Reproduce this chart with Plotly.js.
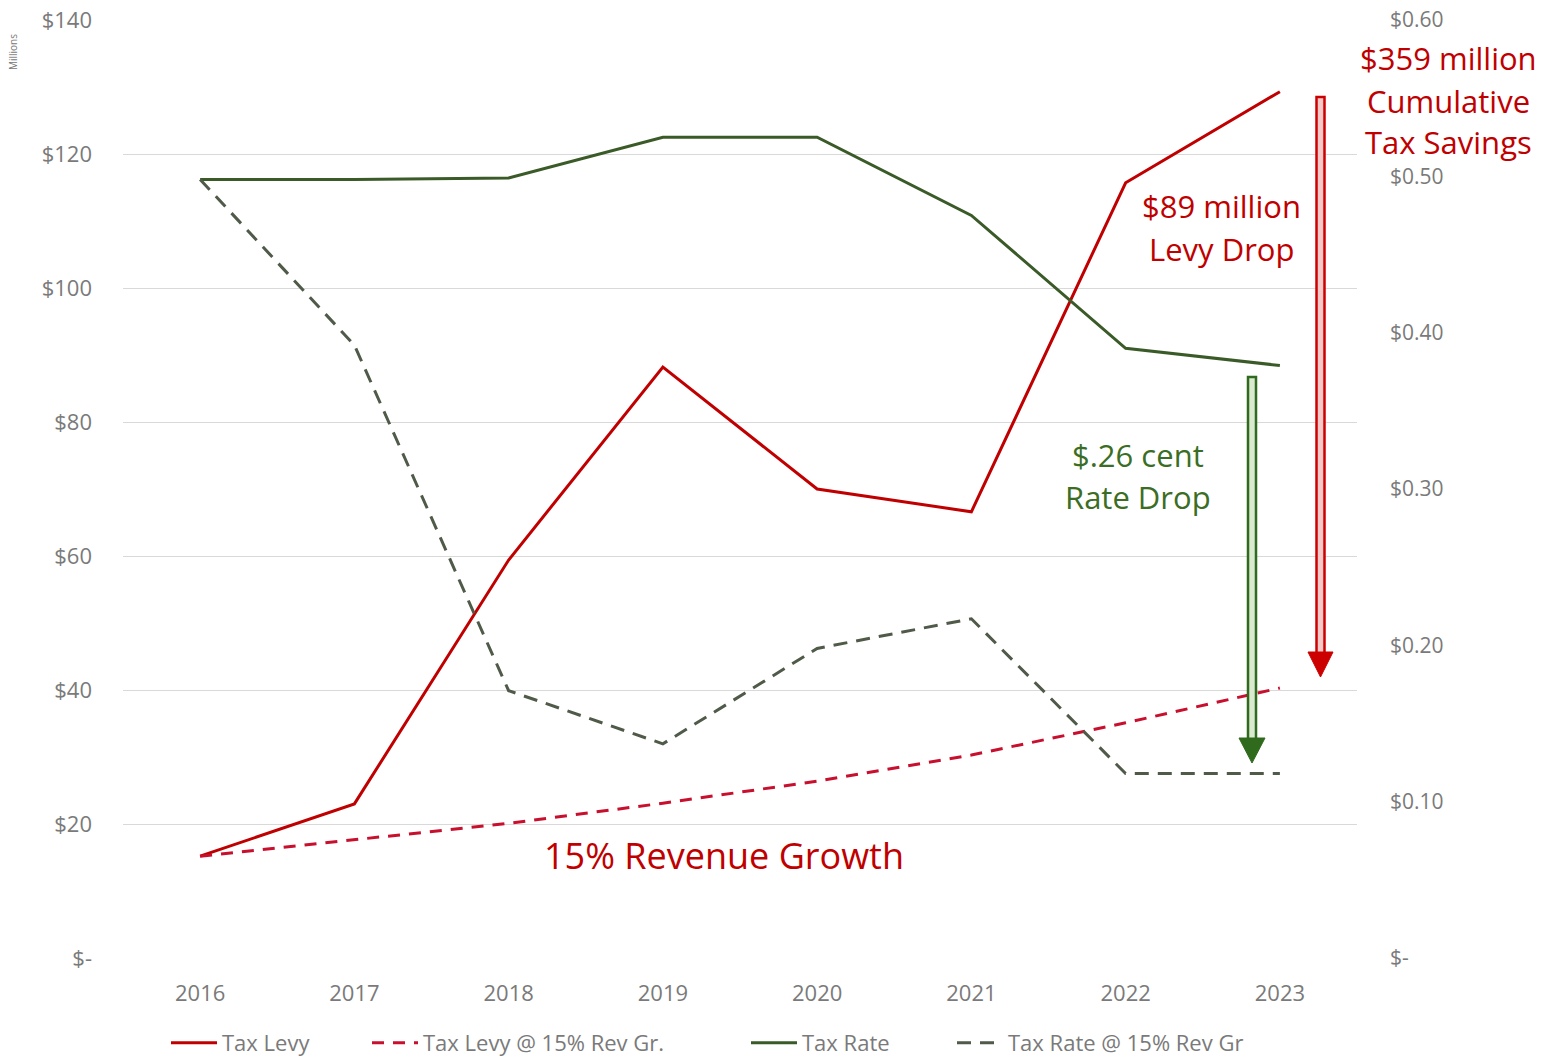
<!DOCTYPE html>
<html>
<head>
<meta charset="utf-8">
<script src="https://cdn.plot.ly/plotly-3.0.1.min.js"></script>
<style>html,body{margin:0;padding:0;background:#fff;}#chart{width:1544px;height:1060px;}</style>
</head>
<body>
<div id="chart"></div>
<script>
const years = ['2016','2017','2018','2019','2020','2021','2022','2023'];
const taxLevy = [15.2, 23.0, 59.4, 88.2, 70.0, 66.6, 115.7, 129.3];
const taxLevy15 = [15.2, 17.6, 20.1, 23.1, 26.4, 30.3, 35.1, 40.3];
const taxRate = [0.498, 0.498, 0.499, 0.525, 0.525, 0.475, 0.390, 0.379];
const taxRate15 = [0.498, 0.392, 0.171, 0.137, 0.198, 0.217, 0.118, 0.118];
const leftTicks = [0, 20, 40, 60, 80, 100, 120, 140];
const leftTickText = ['$-', '$20', '$40', '$60', '$80', '$100', '$120', '$140'];
const rightTicks = [0, 0.1, 0.2, 0.3, 0.4, 0.5, 0.6];
const rightTickText = ['$-', '$0.10', '$0.20', '$0.30', '$0.40', '$0.50', '$0.60'];

const RED = '#c00000';
const GREEN = '#3a5a28';
const GREEN_D = '#4f5a48';
const TICK = '#7a7a7a';
const FONT = 'Open Sans, Liberation Sans, sans-serif';
const AFONT = 'Open Sans, Liberation Sans, sans-serif';

// plot area in pixels
const L = 123, R = 1357, T = 20, B = 958;
const W = R - L, H = B - T;
const px = x => (x - L) / W;
const py = y => (B - y) / H;

const traces = [
  {x: years, y: taxLevy, name: 'Tax Levy', type: 'scatter', mode: 'lines',
   line: {color: RED, width: 3}, legend: 'legend'},
  {x: years, y: taxLevy15, name: 'Tax Levy @ 15% Rev Gr.', type: 'scatter', mode: 'lines',
   line: {color: '#c8102e', width: 3, dash: '12px,9px'}, legend: 'legend2'},
  {x: years, y: taxRate, name: 'Tax Rate', type: 'scatter', mode: 'lines', yaxis: 'y2',
   line: {color: GREEN, width: 3}, legend: 'legend3'},
  {x: years, y: taxRate15, name: 'Tax Rate @ 15% Rev Gr', type: 'scatter', mode: 'lines', yaxis: 'y2',
   line: {color: GREEN_D, width: 3, dash: '14px,9px'}, legend: 'legend4'}
];

function ann(text, x, y, color, size, extra) {
  return Object.assign({text: text, xref: 'paper', yref: 'paper', x: px(x), y: py(y),
    xanchor: 'center', yanchor: 'middle', showarrow: false,
    font: {family: AFONT, size: size, color: color}}, extra || {});
}

const annotations = [
  ann('$359 million', 1448, 58, RED, 31),
  ann('Cumulative', 1448, 101, RED, 31),
  ann('Tax Savings', 1448, 142, RED, 31),
  ann('$89 million', 1221, 206, RED, 31),
  ann('Levy Drop', 1221, 249, RED, 31),
  ann('$.26 cent', 1138, 455, '#3b6e24', 31),
  ann('Rate Drop', 1138, 497, '#3b6e24', 31),
  ann('15% Revenue Growth', 724, 855, RED, 36),
  ann('Millions', 13, 52, '#777', 10, {textangle: -90})
];

function arrowShapes(xc, yTop, yBase, yTip, shaftW, headW, dark, light) {
  return [
    {type: 'rect', xref: 'paper', yref: 'paper', layer: 'above',
     x0: px(xc - shaftW / 2), x1: px(xc + shaftW / 2), y0: py(yBase + 2), y1: py(yTop),
     fillcolor: light, line: {color: dark, width: 2.5}},
    {type: 'path', xref: 'paper', yref: 'paper', layer: 'above',
     path: 'M ' + px(xc - headW / 2) + ',' + py(yBase) + ' L ' + px(xc + headW / 2) + ',' + py(yBase) +
           ' L ' + px(xc) + ',' + py(yTip) + ' Z',
     fillcolor: dark, line: {color: dark, width: 1}}
  ];
}

const shapes = [].concat(
  arrowShapes(1320.5, 97, 652, 677, 8, 25, '#cc0000', '#f6c9c9'),
  arrowShapes(1252, 377, 738, 763, 8, 26, '#2f6a1d', '#d9ead0')
);

function leg(xpix) {
  return {orientation: 'h', x: px(xpix), xanchor: 'left', y: py(1043), yanchor: 'middle',
    itemwidth: 46, font: {size: 22, color: TICK, family: FONT}, bgcolor: 'rgba(0,0,0,0)'};
}

const layout = {
  width: 1544, height: 1060,
  margin: {l: L, r: 1544 - R, t: T, b: 1060 - B, autoexpand: false},
  paper_bgcolor: '#fff', plot_bgcolor: '#fff',
  font: {family: FONT, color: TICK},
  showlegend: true,
  xaxis: {type: 'category', range: [-0.5, 7.5], showgrid: false, zeroline: false, showline: false,
    ticks: '', ticklabelstandoff: 20, tickfont: {size: 22, color: TICK, family: FONT}},
  yaxis: {range: [0, 140], tickvals: leftTicks, ticktext: leftTickText, showgrid: true,
    gridcolor: '#d9d9d9', gridwidth: 1.3, zeroline: false, showline: false, ticks: '',
    ticklabelstandoff: 30, tickfont: {size: 22, color: TICK, family: FONT}},
  yaxis2: {range: [0, 0.6], overlaying: 'y', side: 'right', tickvals: rightTicks, ticktext: rightTickText,
    showgrid: false, zeroline: false, showline: false, ticks: '', ticklabelstandoff: 32,
    tickfont: {size: 21, color: TICK, family: FONT}},
  legend: leg(166),
  legend2: leg(367),
  legend3: leg(746),
  legend4: leg(952),
  annotations: annotations,
  shapes: shapes
};

Plotly.newPlot('chart', traces, layout, {displayModeBar: false, responsive: false});
</script>
</body>
</html>
